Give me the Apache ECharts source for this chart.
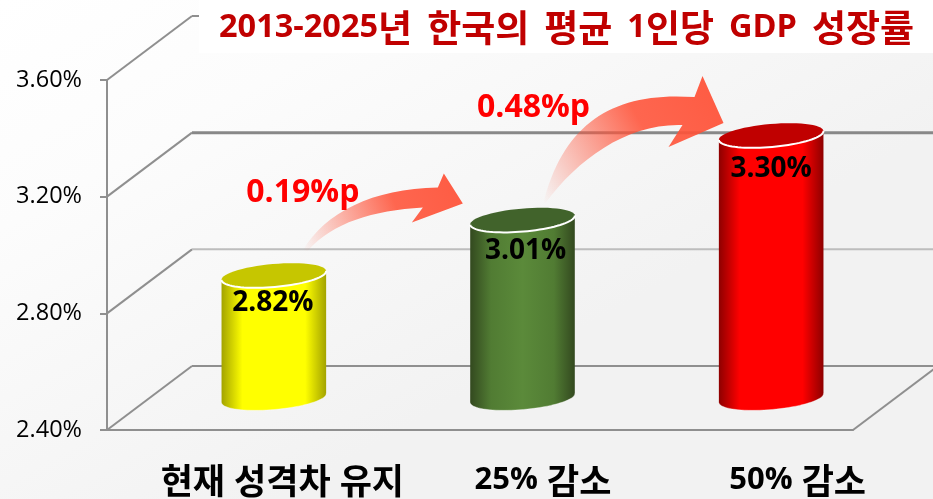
<!DOCTYPE html>
<html>
<head>
<meta charset="utf-8">
<title>chart</title>
<style>
  html, body { margin: 0; padding: 0; background: #fff; }
  #main { width: 933px; height: 499px; }
</style>
<script src="https://cdn.jsdelivr.net/npm/echarts@6/dist/echarts.min.js"></script>
</head>
<body>
<div id="main"></div>
<script>
// data
var categories = ['현재 성격차 유지', '25% 감소', '50% 감소'];
var values = [2.82, 3.01, 3.30];
var yTicks = [2.4, 2.8, 3.2, 3.6];
var arrowFrom = [0, 1];
var arrowLabels = ['0.19%p', '0.48%p'];
var titleText = '2013-2025년 한국의 평균 1인당 GDP 성장률';

var FONT = '"Noto Sans CJK KR", sans-serif';
var LATIN = '"Open Sans", "Noto Sans", sans-serif';

// fake 3D: back wall offset, bars stand half way in
var WALL_DX = 85, WALL_DY = -64;
var BAR_DX = 42.5, BAR_DY = -32;
var RX = 52.5, RY = 11.5, TILT = -5 * Math.PI / 180;

var barColors = [
  { side: '#a3a300', near: '#ffff00', mid: '#ffff00', top: '#c6c600' },
  { side: '#33491f', near: '#517c33', mid: '#5b8a3a', top: '#41632b' },
  { side: '#8e0000', near: '#ff0000', mid: '#ff0000', top: '#c00000' }
];
var backLines = [
  { stroke: '#8f8f8f', lineWidth: 2 },
  { stroke: '#bdbdbd', lineWidth: 2 },
  { stroke: '#888888', lineWidth: 3 },
  { stroke: '#8f8f8f', lineWidth: 2 }
];
var labelShift = [[-1, 28], [3, 31], [0, 34]];
var catShift = [51, 63, 69];

function ellipsePoint(cx, cy, t) {
  var c = Math.cos(t) * RX, s = Math.sin(t) * RY;
  return [cx + c * Math.cos(TILT) - s * Math.sin(TILT), cy + c * Math.sin(TILT) + s * Math.cos(TILT)];
}

function lowerArc(cx, cy) {
  var pts = [];
  for (var i = 0; i <= 40; i++) {
    pts.push(ellipsePoint(cx, cy, Math.PI - i / 40 * Math.PI));
  }
  return pts;
}

function renderWall(params, api) {
  var rect = params.coordSys;
  var i = params.dataIndex;
  var y = api.coord([0, api.value(0)])[1];
  var children = [
    {
      type: 'line',
      shape: { x1: rect.x, y1: y, x2: rect.x + WALL_DX, y2: y + WALL_DY },
      style: { stroke: '#8f8f8f', lineWidth: 2 }
    },
    {
      type: 'line',
      shape: { x1: rect.x + WALL_DX, y1: y + WALL_DY, x2: rect.x + rect.width + WALL_DX, y2: y + WALL_DY },
      style: backLines[i]
    }
  ];
  if (i === 0) {
    // floor edge on the right
    children.push({
      type: 'line',
      shape: { x1: rect.x + rect.width, y1: y, x2: rect.x + rect.width + WALL_DX, y2: y + WALL_DY },
      style: { stroke: '#8f8f8f', lineWidth: 2 }
    });
  }
  return { type: 'group', children: children };
}

function renderBar(params, api) {
  var i = params.dataIndex;
  var top = api.coord([api.value(0), api.value(1)]);
  var base = api.coord([api.value(0), yTicks[0]]);
  var cx = top[0] + BAR_DX;
  var topY = top[1] + BAR_DY;
  var baseY = base[1] + BAR_DY;
  var col = barColors[i];
  var body = [ellipsePoint(cx, topY, Math.PI), ellipsePoint(cx, topY, 0)].concat(lowerArc(cx, baseY).reverse());
  var capPts = [];
  for (var k = 0; k <= 60; k++) capPts.push(ellipsePoint(cx, topY, k / 60 * Math.PI * 2));
  var grad = new echarts.graphic.LinearGradient(0, 0, 1, 0, [
    { offset: 0, color: col.side },
    { offset: 0.2, color: col.near },
    { offset: 0.5, color: col.mid },
    { offset: 0.8, color: col.near },
    { offset: 1, color: col.side }
  ]);
  return {
    type: 'group',
    children: [
      { type: 'polygon', shape: { points: body }, style: { fill: grad } },
      { type: 'polyline', shape: { points: lowerArc(cx, baseY) }, style: { fill: null, stroke: 'rgba(255,255,255,0.35)', lineWidth: 1 } },
      { type: 'polygon', shape: { points: capPts }, style: { fill: col.top } },
      { type: 'polyline', shape: { points: lowerArc(cx, topY) }, style: { fill: null, stroke: '#fff', lineWidth: 2 } },
      {
        type: 'text',
        x: cx + labelShift[i][0],
        y: topY + labelShift[i][1],
        style: {
          text: values[i].toFixed(2) + '%',
          fill: '#000',
          font: 'bold 28px ' + LATIN,
          align: 'center',
          verticalAlign: 'middle'
        }
      }
    ]
  };
}

// arrow outlines, relative to the tail, plus where the tail and the label sit
var arrowShapes = [
  { tail: [29, -25], text: [0, -58], d: 'M0 0C22 -38 70 -62 135 -63L141 -77L160 -47L109 -28L120 -43C70 -40 30 -28 5 0Z' },
  { tail: [21, -17], text: [-10, -95], d: 'M0 0C20 -80 70 -112 151 -106L159 -127L180 -80L125 -56L139 -78C85 -80 35 -45 2 0Z' }
];

function renderArrow(params, api) {
  var i = params.dataIndex;
  var from = api.value(0);
  var p = api.coord([from, values[from]]);
  var s = arrowShapes[i];
  var tx = p[0] + BAR_DX + s.tail[0];
  var ty = p[1] + BAR_DY + s.tail[1];
  return {
    type: 'group',
    children: [
      {
        type: 'path',
        x: tx,
        y: ty,
        shape: { pathData: s.d },
        style: {
          fill: new echarts.graphic.LinearGradient(0, 1, 1, 0.2, [
            { offset: 0, color: 'rgba(255,82,56,0)' },
            { offset: 0.6, color: 'rgba(255,82,56,0.88)' },
            { offset: 1, color: 'rgba(255,82,56,0.94)' }
          ])
        }
      },
      {
        type: 'text',
        x: tx + s.text[0],
        y: ty + s.text[1],
        style: {
          text: arrowLabels[i],
          fill: '#ff0000',
          font: 'bold 32px ' + LATIN,
          align: 'center',
          verticalAlign: 'middle'
        }
      }
    ]
  };
}

// hangul is set larger than latin, the original font draws it that way
function mixed(text) {
  return text.match(/[가-힣]+| +|[^가-힣 ]+/g).map(function (part) {
    var key = part.charAt(0) === ' ' ? 'gap' : (/[가-힣]/.test(part) ? 'han' : 'lat');
    return '{' + key + '|' + part + '}';
  }).join('');
}

var catRich = {
  lat: { fontFamily: LATIN, fontWeight: 'bold', fontSize: 31, color: '#000' },
  han: { fontFamily: FONT, fontWeight: 'bold', fontSize: 35, color: '#000' },
  gap: { width: 9, fontSize: 10 }
};
catShift.forEach(function (s, i) {
  catRich['pad' + i] = { width: s * 2, fontSize: 10 };
});

var myChart = echarts.init(document.getElementById('main'), null, { renderer: 'canvas' });
myChart.setOption({
  animation: false,
  backgroundColor: new echarts.graphic.LinearGradient(0, 0, 0.3, 1, [
    { offset: 0, color: '#ffffff' },
    { offset: 0.35, color: '#fcfcfc' },
    { offset: 1, color: '#f2f2f2' }
  ]),
  title: {
    text: mixed(titleText),
    left: 199,
    top: 0,
    padding: [9, 40, 7, 20],
    backgroundColor: '#fff',
    textStyle: {
      rich: {
        lat: { fontFamily: LATIN, fontWeight: 'bold', fontSize: 32.5, color: '#c00000' },
        han: { fontFamily: FONT, fontWeight: 'bold', fontSize: 37, color: '#c00000' },
        gap: { width: 15, fontSize: 10 }
      }
    }
  },
  grid: { left: 107, top: 80, width: 746, height: 350 },
  xAxis: {
    type: 'category',
    data: categories,
    axisLine: { lineStyle: { color: '#8f8f8f', width: 2 } },
    axisTick: { show: false },
    axisLabel: {
      margin: 33,
      interval: 0,
      formatter: function (value) {
        var i = categories.indexOf(value);
        return '{pad' + i + '| }' + mixed(value);
      },
      rich: catRich
    }
  },
  yAxis: {
    type: 'value',
    min: 2.4,
    max: 3.6,
    interval: 0.4,
    axisLine: { show: true, lineStyle: { color: '#8f8f8f', width: 2 } },
    axisTick: { show: true, length: 7, lineStyle: { color: '#8f8f8f', width: 2 } },
    splitLine: { show: false },
    axisLabel: {
      margin: 25,
      padding: [8, 0, 0, 0],
      fontFamily: LATIN,
      fontSize: 23.5,
      color: '#000',
      formatter: function (v) { return v.toFixed(2) + '%'; }
    }
  },
  series: [
    { type: 'custom', name: 'wall', renderItem: renderWall, data: yTicks, clip: false, silent: true, z: 1, encode: { y: 0 } },
    { type: 'custom', name: 'bars', renderItem: renderBar, data: values.map(function (v, i) { return [i, v]; }), clip: false, z: 3 },
    { type: 'custom', name: 'arrows', renderItem: renderArrow, data: arrowFrom.map(function (f) { return [f]; }), clip: false, silent: true, z: 4, encode: { x: 0 } }
  ]
});
</script>
</body>
</html>
